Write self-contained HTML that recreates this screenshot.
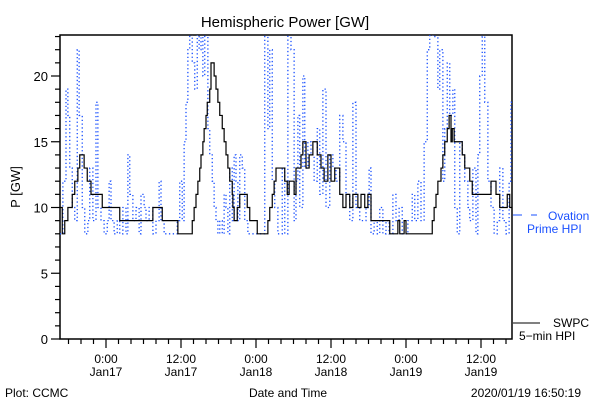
<!DOCTYPE html>
<html><head><meta charset="utf-8"><style>
body{margin:0;background:#fff;}
svg{display:block;font-family:"Liberation Sans",sans-serif;}
</style></head><body>
<svg id="chart" width="600" height="400" viewBox="0 0 600 400">
<rect width="600" height="400" fill="#fff"/>
<text x="285" y="27" font-size="15" text-anchor="middle">Hemispheric Power [GW]</text>
<text x="0" y="0" font-size="13" text-anchor="middle" transform="translate(20,187) rotate(-90)">P [GW]</text>
<text x="5" y="397" font-size="12">Plot: CCMC</text>
<text x="288" y="397" font-size="12" text-anchor="middle">Date and Time</text>
<text x="581" y="397" font-size="12" text-anchor="end">2020/01/19 16:50:19</text>
<g id="axes"></g>
<g id="series"></g>
<g>
<line x1="513" y1="215" x2="537" y2="215" stroke="#1a50ff" stroke-width="1" stroke-dasharray="9 9" shape-rendering="crispEdges"/>
<text x="548" y="220" font-size="12" fill="#1a50ff">Ovation</text>
<text x="527" y="233" font-size="12" fill="#1a50ff">Prime HPI</text>
<line x1="513" y1="323" x2="540" y2="323" stroke="#000" stroke-width="1"/>
<text x="553" y="327" font-size="12">SWPC</text>
<text x="519" y="340" font-size="12">5−min HPI</text>
</g>
</svg>
<script>
// hours relative to 2020-01-17 00:00
const swpcTimes=[-7.4,-7.0,-6.6,-6.1,-5.4,-5.0,-4.5,-4.2,-3.5,-3.0,-2.4,-0.6,2.2,7.5,9.0,11.5,13.8,14.1,14.4,14.7,15.0,15.2,15.5,15.7,16.0,16.2,16.6,16.8,17.3,17.6,17.9,18.2,18.6,18.9,19.2,19.5,19.8,20.2,20.3,20.5,21.0,21.4,22.6,23.0,24.2,25.9,26.2,26.6,26.9,27.2,28.6,29.0,29.3,30.1,30.4,31.2,31.5,32.0,32.5,33.1,33.8,34.4,34.9,35.5,36.0,36.6,37.4,37.9,38.4,39.0,39.5,40.3,40.8,41.4,41.9,42.4,45.4,46.7,47.0,47.7,48.0,52.2,52.5,52.8,53.1,53.6,53.9,54.2,54.6,54.9,55.2,55.4,55.7,57.0,57.4,58.2,58.6,61.6,62.4,63.0,64.2,64.6];
const swpcValues=[10,8,9,10,11,12,13,14,13,12,11,10,9,10,9,8,9,10,11,12,13,14,15,16,17,18,19,21,20,19,18,17,16,15,14,13,12,11,10,9,10,11,10,9,8,9,10,11,12,13,12,11,12,11,13,14,15,13,14,15,14,13,12,14,12,13,11,10,11,10,11,10,11,10,11,9,8,9,8,9,8,9,10,11,12,13,14,15,16,17,15,16,15,14,13,12,11,12,11,10,11,10];
const ovTimes=[-7.4,-6.9,-6.4,-6.1,-5.8,-5.4,-5.0,-4.6,-4.3,-3.8,-3.4,-2.9,-2.6,-2.1,-1.6,-1.3,-0.8,-0.3,0.2,0.5,0.8,1.3,1.8,2.2,2.7,3.2,3.5,3.8,4.3,4.8,5.3,5.6,6.1,6.4,6.9,7.5,8.0,8.5,8.8,9.3,9.9,10.6,11.4,11.8,12.2,12.5,12.8,13.1,13.4,13.8,14.2,14.6,14.9,15.2,15.5,15.8,16.3,16.6,17.0,17.3,17.6,17.9,18.2,18.6,18.9,19.2,19.5,19.8,20.2,20.5,20.8,21.1,21.4,21.8,22.2,22.7,23.4,24.0,25.0,25.4,25.9,26.2,26.6,27.0,27.5,28.2,28.6,29.1,29.6,30.1,30.4,30.7,31.0,31.5,31.8,32.3,32.8,33.3,33.8,34.2,34.7,35.2,35.8,36.3,36.8,37.4,37.9,38.4,39.0,39.5,40.0,40.6,41.1,41.6,42.1,42.4,42.9,43.4,43.8,44.3,44.8,45.3,45.9,46.4,46.9,47.4,47.8,48.3,49.0,49.4,49.9,50.4,50.9,51.4,51.8,52.3,52.8,53.1,53.4,53.9,54.2,54.6,55.0,55.5,55.8,56.2,56.6,57.0,57.4,57.9,58.2,58.7,59.2,59.5,59.8,60.2,60.6,61.1,61.6,62.1,62.6,63.0,63.5,64.0,64.5,64.8];
const ovValues=[8,12,19,17,13,10,9,22,17,10,8,9,13,9,18,10,9,8,9,12,9,8,9,8,10,8,14,11,9,10,8,11,10,9,10,8,9,12,9,8,8,8,9,12,9,15,18,22,24,21,19,24,22,25,20,24,16,14,12,10,9,8,9,8,11,10,8,13,9,14,12,9,14,13,9,8,8,8,8,24,16,22,12,10,8,13,8,24,22,9,12,17,10,20,13,15,14,12,16,11,19,10,14,13,12,17,15,11,9,18,10,9,9,10,13,8,9,8,10,8,9,8,11,9,10,8,8,9,11,9,12,9,15,22,24,23,25,19,22,12,16,21,17,19,10,8,15,14,12,10,9,13,8,14,20,23,18,12,10,8,9,13,9,8,12,18];
const yTickLabels=["0","5","10","15","20"];
const yTickValues=[0,5,10,15,20];
const xTickHours=[0,12,24,36,48,60];
const xTickLabels1=["0:00","12:00","0:00","12:00","0:00","12:00"];
const xTickLabels2=["Jan17","Jan17","Jan18","Jan18","Jan19","Jan19"];

const NS="http://www.w3.org/2000/svg";
const L=60,R=512,T=35,B=339;
const X0=-7.36,X1=64.96,YMAX=(B-T)/13.15;
const sx=h=>L+(h-X0)/(X1-X0)*(R-L);
const sy=v=>B-v*13.15;
function mk(tag,attrs,parent){const e=document.createElementNS(NS,tag);for(const k in attrs)e.setAttribute(k,attrs[k]);parent.appendChild(e);return e;}
const axes=document.getElementById('axes');
const series=document.getElementById('series');

const frame=mk('path',{d:`M${L} ${T}H${R}V${B}H${L}Z`,fill:'none',stroke:'#000','stroke-width':1.5},axes);


for(let v=0;v<=YMAX;v++){
  const t=mk('line',{x1:L-(v%5===0?9:5),x2:L,y1:sy(v),y2:sy(v),stroke:'#000','stroke-width':1.2},axes);
  
  
}
yTickValues.forEach((v,i)=>{
  const t=mk('text',{x:L-12,y:sy(v)+5,'font-size':13,'text-anchor':'end'},axes);
  t.textContent=yTickLabels[i];
  
  
});
for(let h=-6;h<=X1;h+=2){
  const major=(h%12===0);
  const t=mk('line',{x1:sx(h),x2:sx(h),y1:B,y2:B+(major?9:5),stroke:'#000','stroke-width':1.2},axes);
  
  
}
xTickHours.forEach((h,i)=>{
  const a=mk('text',{x:sx(h),y:B+24,'font-size':12,'text-anchor':'middle'},axes);
  a.textContent=xTickLabels1[i];
  
  
  const b=mk('text',{x:sx(h),y:B+37,'font-size':12,'text-anchor':'middle'},axes);
  b.textContent=xTickLabels2[i];
  
  
});
const defs=mk('defs',{},series);
const cp=mk('clipPath',{id:'clip'},defs);
mk('rect',{x:L,y:T,width:R-L,height:B-T},cp);
function stepPath(ts,vs){
  let d=`M${sx(ts[0])} ${sy(vs[0])}`;
  for(let i=1;i<ts.length;i++){d+=`H${sx(ts[i])}V${sy(vs[i])}`;}
  d+=`H${R}`;
  return d;
}
const ov=mk('path',{d:stepPath(ovTimes,ovValues),fill:'none',stroke:'#1a50ff','stroke-width':1.3,'stroke-dasharray':'1.3 2.5','clip-path':'url(#clip)'},series);


const sw=mk('path',{d:stepPath(swpcTimes,swpcValues),fill:'none',stroke:'#000','stroke-width':1.2,'clip-path':'url(#clip)'},series);


</script>
</body></html>
